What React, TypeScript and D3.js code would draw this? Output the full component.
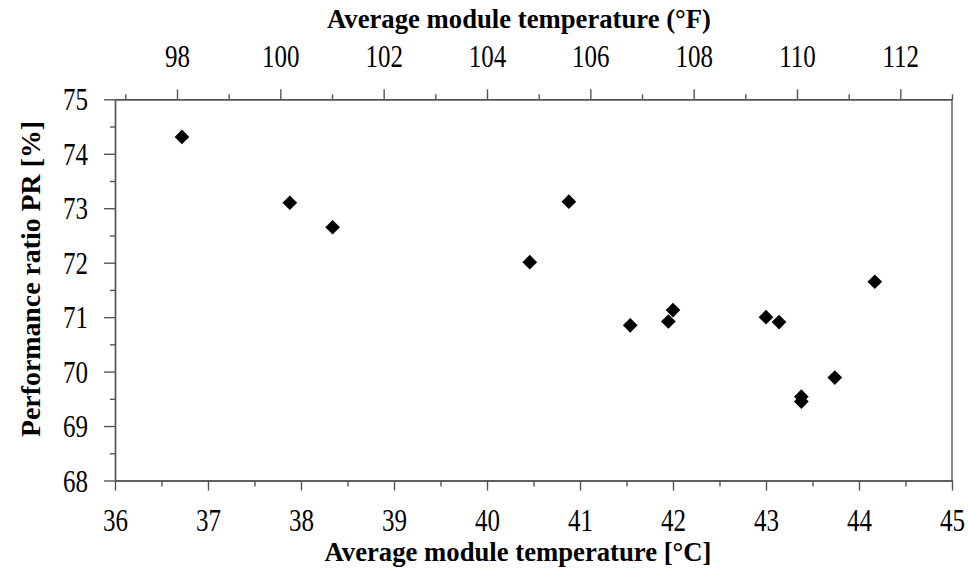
import React, { useEffect, useRef } from 'react'
import * as d3 from 'd3'

// measured points
const tempC = [36.72, 37.88, 38.34, 40.46, 40.88, 41.54, 41.95, 42.0, 43.0, 43.14, 43.38, 43.38, 43.74, 44.17]
const perfRatio = [74.31, 73.1, 72.65, 72.01, 73.12, 70.85, 70.92, 71.13, 71.0, 70.91, 69.54, 69.45, 69.89, 71.65]

// tick labels
const celsiusTicks = [36, 37, 38, 39, 40, 41, 42, 43, 44, 45]
const celsiusMinor = [36.5, 37.5, 38.5, 39.5, 40.5, 41.5, 42.5, 43.5, 44.5]
const fahrenheitTicks = [98, 100, 102, 104, 106, 108, 110, 112]
const fahrenheitMinor = [97, 99, 101, 103, 105, 107, 109, 111, 113]
const prTicks = [68, 69, 70, 71, 72, 73, 74, 75]
const prMinor = [68.5, 69.5, 70.5, 71.5, 72.5, 73.5, 74.5]

const topTitle = 'Average module temperature (°F)'
const bottomTitle = 'Average module temperature [°C]'
const leftTitle = 'Performance ratio PR [%]'

export default function App() {
    const ref = useRef<SVGSVGElement>(null)

    useEffect(() => {
        const m = { l: 115, r: 952, t: 99.3, b: 480.5 }
        const font = '"Liberation Serif", "Times New Roman", serif'
        const axisColor = '#555'
        const labelSize = 25
        const stretch = 1.25

        let svg = d3.select(ref.current)
        svg.selectAll('*').remove()

        let x = d3.scaleLinear().domain([36, 45]).range([m.l, m.r])
        let xF = d3.scaleLinear().domain([36 * 1.8 + 32, 45 * 1.8 + 32]).range([m.l, m.r])
        let y = d3.scaleLinear().domain([68, 75]).range([m.b, m.t])

        const styleAxis = (g: any) => {
            g.select('.domain').attr('stroke', axisColor).attr('stroke-width', 1.4)
            g.selectAll('.tick line').attr('stroke', axisColor).attr('stroke-width', 1.4)
            g.selectAll('.tick text')
                .style('font-family', font)
                .style('font-size', labelSize + 'px')
                .attr('fill', '#000')
        }
        const noLabel = () => ''

        // bottom axis (°C)
        svg.append('g').attr('transform', `translate(0,${m.b})`)
            .call(d3.axisBottom(x).tickValues(celsiusMinor).tickSize(6).tickSizeOuter(0).tickFormat(noLabel))
            .call(styleAxis)
        svg.append('g').attr('transform', `translate(0,${m.b})`)
            .call(d3.axisBottom(x).tickValues(celsiusTicks).tickSize(10).tickSizeOuter(0).tickFormat(d3.format('d')))
            .call(styleAxis)
            .selectAll('.tick text')
            .attr('y', null).attr('dy', null)
            .attr('transform', `translate(0,50) scale(1,${stretch})`)

        // top axis (°F)
        svg.append('g').attr('transform', `translate(0,${m.t})`)
            .call(d3.axisTop(xF).tickValues(fahrenheitMinor).tickSize(5).tickSizeOuter(0).tickFormat(noLabel))
            .call(styleAxis)
        svg.append('g').attr('transform', `translate(0,${m.t})`)
            .call(d3.axisTop(xF).tickValues(fahrenheitTicks).tickSize(10).tickSizeOuter(0).tickFormat(d3.format('d')))
            .call(styleAxis)
            .selectAll('.tick text')
            .attr('y', null).attr('dy', null)
            .attr('transform', `translate(0,-32) scale(1,${stretch})`)

        // left axis (PR)
        svg.append('g').attr('transform', `translate(${m.l},0)`)
            .call(d3.axisLeft(y).tickValues(prMinor).tickSize(5).tickSizeOuter(0).tickFormat(noLabel))
            .call(styleAxis)
        svg.append('g').attr('transform', `translate(${m.l},0)`)
            .call(d3.axisLeft(y).tickValues(prTicks).tickSize(11).tickSizeOuter(0).tickFormat(d3.format('d')))
            .call(styleAxis)
            .selectAll('.tick text')
            .attr('x', null).attr('dy', null)
            .attr('transform', `translate(-27,10.5) scale(1,${stretch})`)

        // right frame line
        svg.append('line')
            .attr('x1', m.r).attr('x2', m.r)
            .attr('y1', m.t).attr('y2', m.b)
            .attr('stroke', axisColor).attr('stroke-width', 1.4)

        // titles
        const title = (sel: any) => sel
            .attr('text-anchor', 'middle')
            .style('font-family', font)
            .style('font-size', '26.7px')
            .style('font-weight', 'bold')
            .attr('fill', '#000')

        svg.append('text').attr('x', 519).attr('y', 28).call(title).text(topTitle)
        svg.append('text').attr('x', 518).attr('y', 561).call(title).text(bottomTitle)
        svg.append('text')
            .attr('transform', 'translate(40,279) rotate(-90)')
            .call(title)
            .attr('textLength', 316).attr('lengthAdjust', 'spacingAndGlyphs')
            .text(leftTitle)

        // diamonds
        svg.selectAll('.pt')
            .data(d3.zip(tempC, perfRatio))
            .join('path')
            .attr('class', 'pt')
            .attr('d', d3.symbol(d3.symbolSquare, 108)() as string)
            .attr('transform', (d) => `translate(${x(d[0])},${y(d[1])}) rotate(45)`)
            .attr('fill', '#000')
    }, [])

    return (
        <svg
            ref={ref}
            width={968}
            height={575}
            style={{ position: 'absolute', left: 0, top: 0, background: '#fff' }}
        />
    )
}
